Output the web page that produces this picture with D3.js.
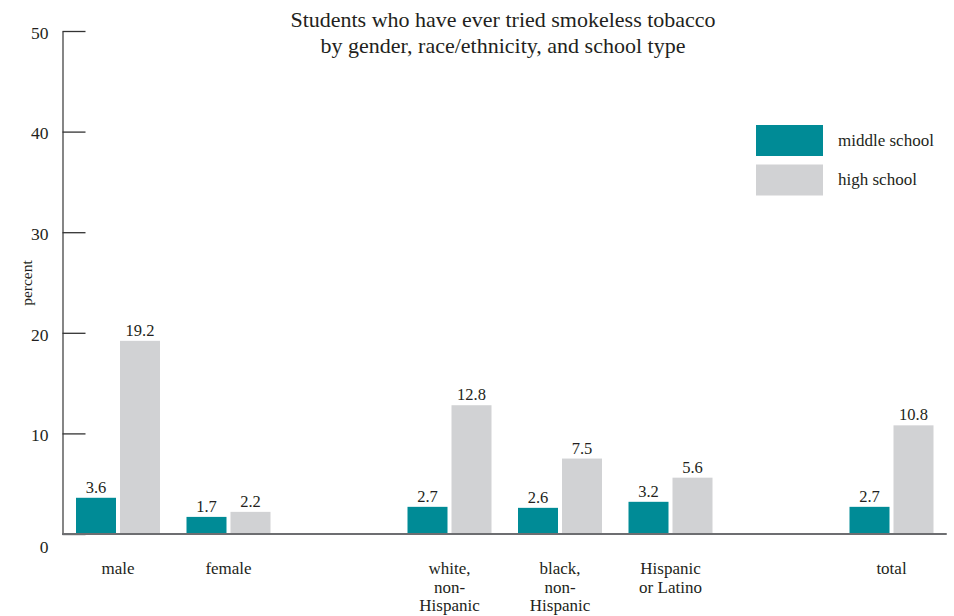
<!DOCTYPE html>
<html>
<head>
<meta charset="utf-8">
<script src="https://cdn.jsdelivr.net/npm/d3@7"></script>
<style>
  body { margin: 0; background: #fff; }
  svg { display: block; font-family: "Liberation Serif", "DejaVu Serif", serif; }
</style>
</head>
<body>
<svg id="chart" width="954" height="616"></svg>
<script>
// ---- data ----
const slots = ["male", "female", "gap1", "white", "black", "hispanic", "gap2", "total"];
const categories = ["male", "female", "white", "black", "hispanic", "total"];
const categoryLabels = [["male"], ["female"], ["white,", "non-", "Hispanic"], ["black,", "non-", "Hispanic"], ["Hispanic", "or Latino"], ["total"]];
const middleSchool = [3.6, 1.7, 2.7, 2.6, 3.2, 2.7];
const highSchool = [19.2, 2.2, 12.8, 7.5, 5.6, 10.8];
const seriesNames = ["middle school", "high school"];
const yTicks = [0, 10, 20, 30, 40, 50];
const titleLines = ["Students who have ever tried smokeless tobacco", "by gender, race/ethnicity, and school type"];
const yLabel = "percent";

const colors = { "middle school": "#008b96", "high school": "#d1d2d4" };
const textColor = "#231f20";

const svg = d3.select("#chart");

const x0 = d3.scaleBand().domain(slots).range([62.75, 946.75]).paddingInner(0).paddingOuter(0);
const x1 = d3.scaleBand().domain(seriesNames).range([13.25, x0.bandwidth() - 13.25]).paddingInner(4 / 44).paddingOuter(0);
const y = d3.scaleLinear().domain([0, 50]).range([534, 31]);

// title
svg.append("g").selectAll("text").data(titleLines).join("text")
  .attr("x", 503).attr("y", (d, i) => 27 + i * 26)
  .attr("text-anchor", "middle").attr("font-size", 22).attr("fill", textColor)
  .text(d => d);

// y axis
const yAxis = d3.axisLeft(y).tickValues(yTicks).tickSizeInner(-23).tickSizeOuter(0).tickPadding(14);
const gy = svg.append("g").attr("transform", "translate(62.5,0)").call(yAxis);
gy.select(".domain").attr("stroke", "#444").attr("stroke-width", 1.3);
gy.selectAll(".tick line").attr("stroke", "#333").attr("stroke-width", 1.3);
gy.selectAll(".tick text").attr("font-family", "Liberation Serif, serif").attr("font-size", 17.5).attr("fill", textColor)
  .attr("dy", d => d === 0 ? "1.05em" : "0.42em");

// y label
svg.append("text").attr("transform", "translate(32,283) rotate(-90)")
  .attr("text-anchor", "middle").attr("font-size", 15.5).attr("fill", textColor).text(yLabel);

// bars
const rows = categories.map((c, i) => ({ cat: c, values: [
  { s: "middle school", v: middleSchool[i] },
  { s: "high school", v: highSchool[i] }
]}));

const groups = svg.append("g").selectAll("g").data(rows).join("g")
  .attr("transform", d => `translate(${x0(d.cat)},0)`);

groups.selectAll("rect").data(d => d.values).join("rect")
  .attr("x", d => x1(d.s)).attr("width", x1.bandwidth())
  .attr("y", d => y(d.v)).attr("height", d => y(0) - y(d.v))
  .attr("fill", d => colors[d.s]);

groups.selectAll("text.val").data(d => d.values).join("text")
  .attr("class", "val")
  .attr("x", d => x1(d.s) + x1.bandwidth() / 2).attr("y", d => y(d.v) - 5)
  .attr("text-anchor", "middle").attr("font-size", 16.5).attr("fill", textColor)
  .text(d => d.v.toFixed(1));

// baseline
svg.append("line").attr("x1", 62).attr("x2", x0.range()[1]).attr("y1", y(0)).attr("y2", y(0))
  .attr("stroke", "#6d6e71").attr("stroke-width", 2);

// category labels
const labG = svg.append("g").selectAll("text").data(categories).join("text")
  .attr("text-anchor", "middle").attr("font-size", 17).attr("fill", textColor)
  .attr("transform", d => `translate(${x0(d) + x0.bandwidth() / 2},574)`);
labG.selectAll("tspan").data((d, i) => categoryLabels[i]).join("tspan")
  .attr("x", 0).attr("y", (d, i) => i * 18.5).text(d => d);

// legend
const leg = svg.append("g").selectAll("g").data(seriesNames).join("g")
  .attr("transform", (d, i) => `translate(756,${125 + i * 39.5})`);
leg.append("rect").attr("width", 67).attr("height", 31).attr("fill", d => colors[d]);
leg.append("text").attr("x", 82).attr("y", 20.5).attr("font-size", 17).attr("fill", textColor).text(d => d);
</script>
</body>
</html>
